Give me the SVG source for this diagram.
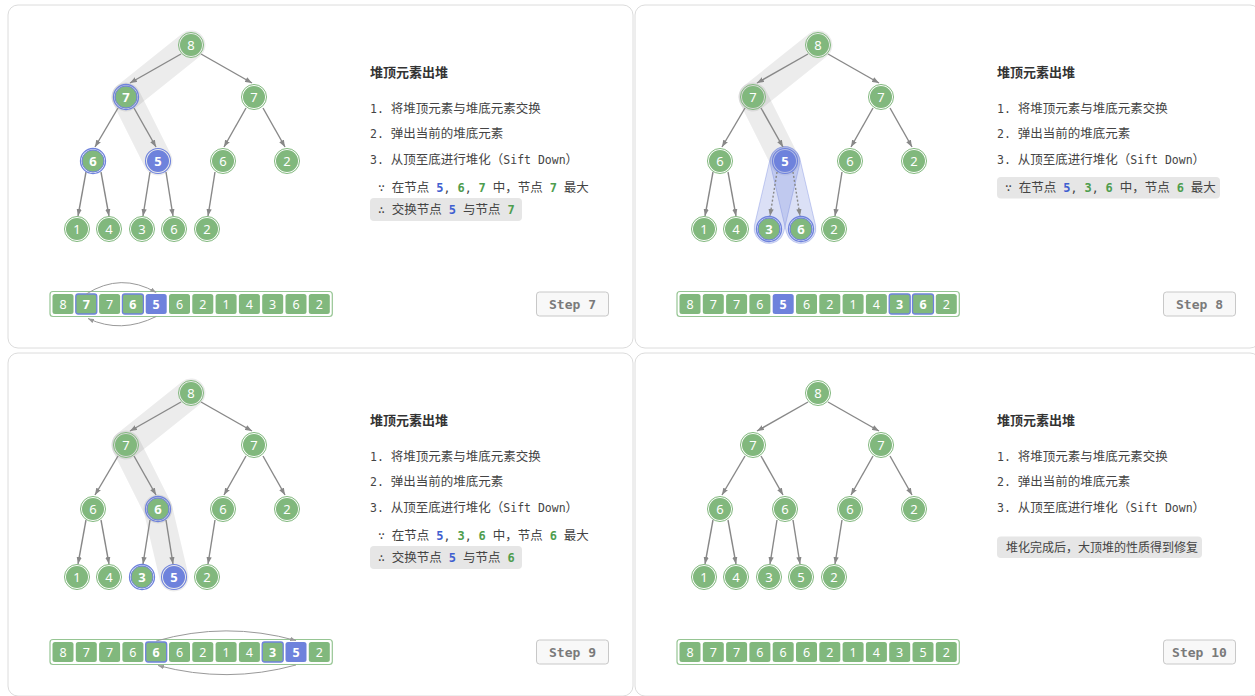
<svg xmlns="http://www.w3.org/2000/svg" width="1255" height="696" viewBox="0 0 1255 696">
<style>
.panel{fill:#fff;stroke:#dcdcdc;stroke-width:1}
.trail{fill:none;stroke:#000;stroke-opacity:.075;stroke-width:29;stroke-linecap:round}
.cap{fill:#6e82dc;fill-opacity:.25;stroke:#6e82dc;stroke-opacity:.45;stroke-width:.8}
.edges path{fill:none;stroke:#888;stroke-width:1.4;marker-end:url(#ah)}
.edges path.dash{stroke-dasharray:2 2}
.ring{fill:none;stroke:#81b87d;stroke-width:1}
.core{fill:#81b87d}
.hl .ring{stroke:#6e82dc;stroke-width:1.3}
.hl .core{stroke:#6e82dc;stroke-width:1}
.sel .ring{stroke:#6e82dc;stroke-width:1.1}
.sel .core{fill:#6e82dc}
.nt{font-family:"Noto Sans","DejaVu Sans",sans-serif;font-size:13px;fill:#fff;text-anchor:middle}
.hl .nt,.sel .nt,.hl .ct,.sel .ct{font-weight:bold}
.arr{fill:#fff;stroke:#96c593;stroke-width:1.2}
.cell{fill:#81b87d}
.hl .cell{stroke:#6e82dc;stroke-width:1.3}
.sel .cell{fill:#6e82dc}
.ct{font-family:"Noto Sans","DejaVu Sans",sans-serif;font-size:12.5px;fill:#fff;text-anchor:middle}
.arc{fill:none;stroke:#999;stroke-width:1;marker-end:url(#ah2)}
.title{font-family:"Noto Sans CJK SC",sans-serif;font-size:13px;font-weight:bold;fill:#333}
.tx{font-family:"Noto Sans CJK SC",sans-serif;font-size:12.5px;fill:#444;white-space:pre}
.m{font-family:"DejaVu Sans Mono","Noto Sans CJK SC",monospace;font-size:11.5px}
.bb{font-family:"DejaVu Sans Mono",monospace;font-size:12px;font-weight:bold;fill:#3f5fd0}
.gb{font-family:"DejaVu Sans Mono",monospace;font-size:12px;font-weight:bold;fill:#4e9d4e}
.box{fill:#e6e6e6}
.stepbox{fill:#f8f8f8;stroke:#c8c8c8;stroke-width:1}
.step{font-family:"DejaVu Sans Mono",monospace;font-size:13px;font-weight:bold;fill:#7a7a7a;text-anchor:middle}
</style>
<defs>
<marker id="ah" viewBox="0 0 8 6" refX="8" refY="3" markerWidth="7" markerHeight="5.5" markerUnits="userSpaceOnUse" orient="auto"><path d="M0,0 L8,3 L0,6 Z" fill="#888"/></marker>
<marker id="ah2" viewBox="0 0 8 6" refX="8" refY="3" markerWidth="6" markerHeight="4.5" markerUnits="userSpaceOnUse" orient="auto"><path d="M0,0 L8,3 L0,6 Z" fill="#999"/></marker>
</defs>
<rect width="1255" height="696" fill="#fff"/>

<!-- PANEL 1 -->
<g id="panel1">
<rect class="panel" x="8" y="5" width="625" height="343" rx="10"/>
<g id="p1-highlight"><path class="trail" d="M191,45 L126,97"/><path class="trail" d="M126,97 L158,161"/></g>
<g id="p1-connectors" class="edges">
<path d="M181,54 L130,83"/><path d="M201,54 L252,83"/>
<path d="M118,108 L95,147"/><path d="M134,108 L156,147"/>
<path d="M246,108 L224,147"/><path d="M263,108 L285,147"/>
<path d="M86,172 L78,216"/><path d="M101,172 L109,216"/>
<path d="M150,172 L143,216"/><path d="M166,172 L173,216"/>
<path d="M215,172 L208,216"/>
</g>
<g id="p1-n0"><circle class="ring" cx="191" cy="45" r="12.5"/><circle class="core" cx="191" cy="45" r="11"/><text class="nt" x="191" y="49.6">8</text></g>
<g id="p1-n1" class="hl"><circle class="ring" cx="126" cy="97" r="12.5"/><circle class="core" cx="126" cy="97" r="11"/><text class="nt" x="126" y="101.6">7</text></g>
<g id="p1-n2"><circle class="ring" cx="254" cy="97" r="12.5"/><circle class="core" cx="254" cy="97" r="11"/><text class="nt" x="254" y="101.6">7</text></g>
<g id="p1-n3" class="hl"><circle class="ring" cx="93" cy="161" r="12.5"/><circle class="core" cx="93" cy="161" r="11"/><text class="nt" x="93" y="165.6">6</text></g>
<g id="p1-n4" class="sel"><circle class="ring" cx="158" cy="161" r="12.5"/><circle class="core" cx="158" cy="161" r="11"/><text class="nt" x="158" y="165.6">5</text></g>
<g id="p1-n5"><circle class="ring" cx="223" cy="161" r="12.5"/><circle class="core" cx="223" cy="161" r="11"/><text class="nt" x="223" y="165.6">6</text></g>
<g id="p1-n6"><circle class="ring" cx="287" cy="161" r="12.5"/><circle class="core" cx="287" cy="161" r="11"/><text class="nt" x="287" y="165.6">2</text></g>
<g id="p1-n7"><circle class="ring" cx="77" cy="229" r="12.5"/><circle class="core" cx="77" cy="229" r="11"/><text class="nt" x="77" y="233.6">1</text></g>
<g id="p1-n8"><circle class="ring" cx="109" cy="229" r="12.5"/><circle class="core" cx="109" cy="229" r="11"/><text class="nt" x="109" y="233.6">4</text></g>
<g id="p1-n9"><circle class="ring" cx="142" cy="229" r="12.5"/><circle class="core" cx="142" cy="229" r="11"/><text class="nt" x="142" y="233.6">3</text></g>
<g id="p1-n10"><circle class="ring" cx="174" cy="229" r="12.5"/><circle class="core" cx="174" cy="229" r="11"/><text class="nt" x="174" y="233.6">6</text></g>
<g id="p1-n11"><circle class="ring" cx="207" cy="229" r="12.5"/><circle class="core" cx="207" cy="229" r="11"/><text class="nt" x="207" y="233.6">2</text></g>
<g id="p1-text">
<text class="title" x="370" y="76.5">堆顶元素出堆</text>
<text class="tx" x="370" y="112.5"><tspan class="m">1. </tspan>将堆顶元素与堆底元素交换</text>
<text class="tx" x="370" y="138"><tspan class="m">2. </tspan>弹出当前的堆底元素</text>
<text class="tx" x="370" y="163.5"><tspan class="m">3. </tspan>从顶至底进行堆化（<tspan class="m">Sift Down</tspan>）</text>
<text class="tx" x="378" y="192"><tspan class="m">∵ </tspan>在节点<tspan class="m"> </tspan><tspan class="bb">5</tspan><tspan class="m">, </tspan><tspan class="gb">6</tspan><tspan class="m">, </tspan><tspan class="gb">7</tspan><tspan class="m"> </tspan>中，节点<tspan class="m"> </tspan><tspan class="gb">7</tspan><tspan class="m"> </tspan>最大</text>
<rect class="box" x="370" y="198" width="152" height="23" rx="4"/>
<text class="tx" x="378" y="214"><tspan class="m">∴ </tspan>交换节点<tspan class="m"> </tspan><tspan class="bb">5</tspan><tspan class="m"> </tspan>与节点<tspan class="m"> </tspan><tspan class="gb">7</tspan></text>
</g>
<rect class="arr" x="50" y="291.5" width="282.3" height="25" rx="3"/>
<g id="p1-a0"><rect class="cell" x="52.5" y="294" width="21" height="20" rx="2.5"/><text class="ct" x="63" y="308.5">8</text></g>
<g id="p1-a1" class="hl"><rect class="cell" x="75.8" y="294" width="21" height="20" rx="2.5"/><text class="ct" x="86.3" y="308.5">7</text></g>
<g id="p1-a2"><rect class="cell" x="99.1" y="294" width="21" height="20" rx="2.5"/><text class="ct" x="109.6" y="308.5">7</text></g>
<g id="p1-a3" class="hl"><rect class="cell" x="122.4" y="294" width="21" height="20" rx="2.5"/><text class="ct" x="132.9" y="308.5">6</text></g>
<g id="p1-a4" class="sel"><rect class="cell" x="145.7" y="294" width="21" height="20" rx="2.5"/><text class="ct" x="156.2" y="308.5">5</text></g>
<g id="p1-a5"><rect class="cell" x="169" y="294" width="21" height="20" rx="2.5"/><text class="ct" x="179.5" y="308.5">6</text></g>
<g id="p1-a6"><rect class="cell" x="192.3" y="294" width="21" height="20" rx="2.5"/><text class="ct" x="202.8" y="308.5">2</text></g>
<g id="p1-a7"><rect class="cell" x="215.6" y="294" width="21" height="20" rx="2.5"/><text class="ct" x="226.1" y="308.5">1</text></g>
<g id="p1-a8"><rect class="cell" x="238.9" y="294" width="21" height="20" rx="2.5"/><text class="ct" x="249.4" y="308.5">4</text></g>
<g id="p1-a9"><rect class="cell" x="262.2" y="294" width="21" height="20" rx="2.5"/><text class="ct" x="272.7" y="308.5">3</text></g>
<g id="p1-a10"><rect class="cell" x="285.5" y="294" width="21" height="20" rx="2.5"/><text class="ct" x="296" y="308.5">6</text></g>
<g id="p1-a11"><rect class="cell" x="308.8" y="294" width="21" height="20" rx="2.5"/><text class="ct" x="319.3" y="308.5">2</text></g>
<g id="p1-swap"><path class="arc" d="M86.3,294 Q121,272 156.2,292.5"/><path class="arc" d="M156.2,316.5 Q121,334 88,318.5"/></g>
<g id="p1-step"><rect class="stepbox" x="536.5" y="292" width="72" height="24" rx="3"/><text class="step" x="572.5" y="308.5">Step 7</text></g>
</g>

<!-- PANEL 2 -->
<g id="panel2" transform="translate(627,0)">
<rect class="panel" x="8" y="5" width="625" height="343" rx="10"/>
<g id="p2-highlight"><path class="trail" d="M191,45 L126,97"/><path class="trail" d="M126,97 L158,161"/>
<path class="cap" d="M172.6,164.4 L156.6,232.4 A15,15 0 0 1 127.4,225.6 L143.4,157.6 A15,15 0 0 1 172.6,164.4 Z"/>
<path class="cap" d="M172.6,157.6 L188.6,225.6 A15,15 0 0 1 159.4,232.4 L143.4,164.4 A15,15 0 0 1 172.6,157.6 Z"/></g>
<g id="p2-connectors" class="edges">
<path d="M181,54 L130,83"/><path d="M201,54 L252,83"/>
<path d="M118,108 L95,147"/><path d="M134,108 L156,147"/>
<path d="M246,108 L224,147"/><path d="M263,108 L285,147"/>
<path d="M86,172 L78,216"/><path d="M101,172 L109,216"/>
<path class="dash" d="M150,172 L143,216"/><path class="dash" d="M166,172 L173,216"/>
<path d="M215,172 L208,216"/>
</g>
<g id="p2-n0"><circle class="ring" cx="191" cy="45" r="12.5"/><circle class="core" cx="191" cy="45" r="11"/><text class="nt" x="191" y="49.6">8</text></g>
<g id="p2-n1"><circle class="ring" cx="126" cy="97" r="12.5"/><circle class="core" cx="126" cy="97" r="11"/><text class="nt" x="126" y="101.6">7</text></g>
<g id="p2-n2"><circle class="ring" cx="254" cy="97" r="12.5"/><circle class="core" cx="254" cy="97" r="11"/><text class="nt" x="254" y="101.6">7</text></g>
<g id="p2-n3"><circle class="ring" cx="93" cy="161" r="12.5"/><circle class="core" cx="93" cy="161" r="11"/><text class="nt" x="93" y="165.6">6</text></g>
<g id="p2-n4" class="sel"><circle class="ring" cx="158" cy="161" r="12.5"/><circle class="core" cx="158" cy="161" r="11"/><text class="nt" x="158" y="165.6">5</text></g>
<g id="p2-n5"><circle class="ring" cx="223" cy="161" r="12.5"/><circle class="core" cx="223" cy="161" r="11"/><text class="nt" x="223" y="165.6">6</text></g>
<g id="p2-n6"><circle class="ring" cx="287" cy="161" r="12.5"/><circle class="core" cx="287" cy="161" r="11"/><text class="nt" x="287" y="165.6">2</text></g>
<g id="p2-n7"><circle class="ring" cx="77" cy="229" r="12.5"/><circle class="core" cx="77" cy="229" r="11"/><text class="nt" x="77" y="233.6">1</text></g>
<g id="p2-n8"><circle class="ring" cx="109" cy="229" r="12.5"/><circle class="core" cx="109" cy="229" r="11"/><text class="nt" x="109" y="233.6">4</text></g>
<g id="p2-n9" class="hl"><circle class="ring" cx="142" cy="229" r="12.5"/><circle class="core" cx="142" cy="229" r="11"/><text class="nt" x="142" y="233.6">3</text></g>
<g id="p2-n10" class="hl"><circle class="ring" cx="174" cy="229" r="12.5"/><circle class="core" cx="174" cy="229" r="11"/><text class="nt" x="174" y="233.6">6</text></g>
<g id="p2-n11"><circle class="ring" cx="207" cy="229" r="12.5"/><circle class="core" cx="207" cy="229" r="11"/><text class="nt" x="207" y="233.6">2</text></g>
<g id="p2-text">
<text class="title" x="370" y="76.5">堆顶元素出堆</text>
<text class="tx" x="370" y="112.5"><tspan class="m">1. </tspan>将堆顶元素与堆底元素交换</text>
<text class="tx" x="370" y="138"><tspan class="m">2. </tspan>弹出当前的堆底元素</text>
<text class="tx" x="370" y="163.5"><tspan class="m">3. </tspan>从顶至底进行堆化（<tspan class="m">Sift Down</tspan>）</text>
<rect class="box" x="370" y="177" width="223" height="21.5" rx="4"/>
<text class="tx" x="378" y="192"><tspan class="m">∵ </tspan>在节点<tspan class="m"> </tspan><tspan class="bb">5</tspan><tspan class="m">, </tspan><tspan class="gb">3</tspan><tspan class="m">, </tspan><tspan class="gb">6</tspan><tspan class="m"> </tspan>中，节点<tspan class="m"> </tspan><tspan class="gb">6</tspan><tspan class="m"> </tspan>最大</text>
</g>
<rect class="arr" x="50" y="291.5" width="282.3" height="25" rx="3"/>
<g id="p2-a0"><rect class="cell" x="52.5" y="294" width="21" height="20" rx="2.5"/><text class="ct" x="63" y="308.5">8</text></g>
<g id="p2-a1"><rect class="cell" x="75.8" y="294" width="21" height="20" rx="2.5"/><text class="ct" x="86.3" y="308.5">7</text></g>
<g id="p2-a2"><rect class="cell" x="99.1" y="294" width="21" height="20" rx="2.5"/><text class="ct" x="109.6" y="308.5">7</text></g>
<g id="p2-a3"><rect class="cell" x="122.4" y="294" width="21" height="20" rx="2.5"/><text class="ct" x="132.9" y="308.5">6</text></g>
<g id="p2-a4" class="sel"><rect class="cell" x="145.7" y="294" width="21" height="20" rx="2.5"/><text class="ct" x="156.2" y="308.5">5</text></g>
<g id="p2-a5"><rect class="cell" x="169" y="294" width="21" height="20" rx="2.5"/><text class="ct" x="179.5" y="308.5">6</text></g>
<g id="p2-a6"><rect class="cell" x="192.3" y="294" width="21" height="20" rx="2.5"/><text class="ct" x="202.8" y="308.5">2</text></g>
<g id="p2-a7"><rect class="cell" x="215.6" y="294" width="21" height="20" rx="2.5"/><text class="ct" x="226.1" y="308.5">1</text></g>
<g id="p2-a8"><rect class="cell" x="238.9" y="294" width="21" height="20" rx="2.5"/><text class="ct" x="249.4" y="308.5">4</text></g>
<g id="p2-a9" class="hl"><rect class="cell" x="262.2" y="294" width="21" height="20" rx="2.5"/><text class="ct" x="272.7" y="308.5">3</text></g>
<g id="p2-a10" class="hl"><rect class="cell" x="285.5" y="294" width="21" height="20" rx="2.5"/><text class="ct" x="296" y="308.5">6</text></g>
<g id="p2-a11"><rect class="cell" x="308.8" y="294" width="21" height="20" rx="2.5"/><text class="ct" x="319.3" y="308.5">2</text></g>
<g id="p2-step"><rect class="stepbox" x="536.5" y="292" width="72" height="24" rx="3"/><text class="step" x="572.5" y="308.5">Step 8</text></g>
</g>

<!-- PANEL 3 -->
<g id="panel3" transform="translate(0,348)">
<rect class="panel" x="8" y="5" width="625" height="343" rx="10"/>
<g id="p3-highlight"><path class="trail" d="M191,45 L126,97"/><path class="trail" d="M126,97 L158,161"/><path class="trail" d="M158,161 L174,229"/></g>
<g id="p3-connectors" class="edges">
<path d="M181,54 L130,83"/><path d="M201,54 L252,83"/>
<path d="M118,108 L95,147"/><path d="M134,108 L156,147"/>
<path d="M246,108 L224,147"/><path d="M263,108 L285,147"/>
<path d="M86,172 L78,216"/><path d="M101,172 L109,216"/>
<path d="M150,172 L143,216"/><path d="M166,172 L173,216"/>
<path d="M215,172 L208,216"/>
</g>
<g id="p3-n0"><circle class="ring" cx="191" cy="45" r="12.5"/><circle class="core" cx="191" cy="45" r="11"/><text class="nt" x="191" y="49.6">8</text></g>
<g id="p3-n1"><circle class="ring" cx="126" cy="97" r="12.5"/><circle class="core" cx="126" cy="97" r="11"/><text class="nt" x="126" y="101.6">7</text></g>
<g id="p3-n2"><circle class="ring" cx="254" cy="97" r="12.5"/><circle class="core" cx="254" cy="97" r="11"/><text class="nt" x="254" y="101.6">7</text></g>
<g id="p3-n3"><circle class="ring" cx="93" cy="161" r="12.5"/><circle class="core" cx="93" cy="161" r="11"/><text class="nt" x="93" y="165.6">6</text></g>
<g id="p3-n4" class="hl"><circle class="ring" cx="158" cy="161" r="12.5"/><circle class="core" cx="158" cy="161" r="11"/><text class="nt" x="158" y="165.6">6</text></g>
<g id="p3-n5"><circle class="ring" cx="223" cy="161" r="12.5"/><circle class="core" cx="223" cy="161" r="11"/><text class="nt" x="223" y="165.6">6</text></g>
<g id="p3-n6"><circle class="ring" cx="287" cy="161" r="12.5"/><circle class="core" cx="287" cy="161" r="11"/><text class="nt" x="287" y="165.6">2</text></g>
<g id="p3-n7"><circle class="ring" cx="77" cy="229" r="12.5"/><circle class="core" cx="77" cy="229" r="11"/><text class="nt" x="77" y="233.6">1</text></g>
<g id="p3-n8"><circle class="ring" cx="109" cy="229" r="12.5"/><circle class="core" cx="109" cy="229" r="11"/><text class="nt" x="109" y="233.6">4</text></g>
<g id="p3-n9" class="hl"><circle class="ring" cx="142" cy="229" r="12.5"/><circle class="core" cx="142" cy="229" r="11"/><text class="nt" x="142" y="233.6">3</text></g>
<g id="p3-n10" class="sel"><circle class="ring" cx="174" cy="229" r="12.5"/><circle class="core" cx="174" cy="229" r="11"/><text class="nt" x="174" y="233.6">5</text></g>
<g id="p3-n11"><circle class="ring" cx="207" cy="229" r="12.5"/><circle class="core" cx="207" cy="229" r="11"/><text class="nt" x="207" y="233.6">2</text></g>
<g id="p3-text">
<text class="title" x="370" y="76.5">堆顶元素出堆</text>
<text class="tx" x="370" y="112.5"><tspan class="m">1. </tspan>将堆顶元素与堆底元素交换</text>
<text class="tx" x="370" y="138"><tspan class="m">2. </tspan>弹出当前的堆底元素</text>
<text class="tx" x="370" y="163.5"><tspan class="m">3. </tspan>从顶至底进行堆化（<tspan class="m">Sift Down</tspan>）</text>
<text class="tx" x="378" y="192"><tspan class="m">∵ </tspan>在节点<tspan class="m"> </tspan><tspan class="bb">5</tspan><tspan class="m">, </tspan><tspan class="gb">3</tspan><tspan class="m">, </tspan><tspan class="gb">6</tspan><tspan class="m"> </tspan>中，节点<tspan class="m"> </tspan><tspan class="gb">6</tspan><tspan class="m"> </tspan>最大</text>
<rect class="box" x="370" y="198" width="152" height="23" rx="4"/>
<text class="tx" x="378" y="214"><tspan class="m">∴ </tspan>交换节点<tspan class="m"> </tspan><tspan class="bb">5</tspan><tspan class="m"> </tspan>与节点<tspan class="m"> </tspan><tspan class="gb">6</tspan></text>
</g>
<rect class="arr" x="50" y="291.5" width="282.3" height="25" rx="3"/>
<g id="p3-a0"><rect class="cell" x="52.5" y="294" width="21" height="20" rx="2.5"/><text class="ct" x="63" y="308.5">8</text></g>
<g id="p3-a1"><rect class="cell" x="75.8" y="294" width="21" height="20" rx="2.5"/><text class="ct" x="86.3" y="308.5">7</text></g>
<g id="p3-a2"><rect class="cell" x="99.1" y="294" width="21" height="20" rx="2.5"/><text class="ct" x="109.6" y="308.5">7</text></g>
<g id="p3-a3"><rect class="cell" x="122.4" y="294" width="21" height="20" rx="2.5"/><text class="ct" x="132.9" y="308.5">6</text></g>
<g id="p3-a4" class="hl"><rect class="cell" x="145.7" y="294" width="21" height="20" rx="2.5"/><text class="ct" x="156.2" y="308.5">6</text></g>
<g id="p3-a5"><rect class="cell" x="169" y="294" width="21" height="20" rx="2.5"/><text class="ct" x="179.5" y="308.5">6</text></g>
<g id="p3-a6"><rect class="cell" x="192.3" y="294" width="21" height="20" rx="2.5"/><text class="ct" x="202.8" y="308.5">2</text></g>
<g id="p3-a7"><rect class="cell" x="215.6" y="294" width="21" height="20" rx="2.5"/><text class="ct" x="226.1" y="308.5">1</text></g>
<g id="p3-a8"><rect class="cell" x="238.9" y="294" width="21" height="20" rx="2.5"/><text class="ct" x="249.4" y="308.5">4</text></g>
<g id="p3-a9" class="hl"><rect class="cell" x="262.2" y="294" width="21" height="20" rx="2.5"/><text class="ct" x="272.7" y="308.5">3</text></g>
<g id="p3-a10" class="sel"><rect class="cell" x="285.5" y="294" width="21" height="20" rx="2.5"/><text class="ct" x="296" y="308.5">5</text></g>
<g id="p3-a11"><rect class="cell" x="308.8" y="294" width="21" height="20" rx="2.5"/><text class="ct" x="319.3" y="308.5">2</text></g>
<g id="p3-swap"><path class="arc" d="M156.2,293 Q226,273 296,292.5"/><path class="arc" d="M296,317 Q227,336 158,317.5"/></g>
<g id="p3-step"><rect class="stepbox" x="536.5" y="292" width="72" height="24" rx="3"/><text class="step" x="572.5" y="308.5">Step 9</text></g>
</g>

<!-- PANEL 4 -->
<g id="panel4" transform="translate(627,348)">
<rect class="panel" x="8" y="5" width="625" height="343" rx="10"/>
<g id="p4-connectors" class="edges">
<path d="M181,54 L130,83"/><path d="M201,54 L252,83"/>
<path d="M118,108 L95,147"/><path d="M134,108 L156,147"/>
<path d="M246,108 L224,147"/><path d="M263,108 L285,147"/>
<path d="M86,172 L78,216"/><path d="M101,172 L109,216"/>
<path d="M150,172 L143,216"/><path d="M166,172 L173,216"/>
<path d="M215,172 L208,216"/>
</g>
<g id="p4-n0"><circle class="ring" cx="191" cy="45" r="12.5"/><circle class="core" cx="191" cy="45" r="11"/><text class="nt" x="191" y="49.6">8</text></g>
<g id="p4-n1"><circle class="ring" cx="126" cy="97" r="12.5"/><circle class="core" cx="126" cy="97" r="11"/><text class="nt" x="126" y="101.6">7</text></g>
<g id="p4-n2"><circle class="ring" cx="254" cy="97" r="12.5"/><circle class="core" cx="254" cy="97" r="11"/><text class="nt" x="254" y="101.6">7</text></g>
<g id="p4-n3"><circle class="ring" cx="93" cy="161" r="12.5"/><circle class="core" cx="93" cy="161" r="11"/><text class="nt" x="93" y="165.6">6</text></g>
<g id="p4-n4"><circle class="ring" cx="158" cy="161" r="12.5"/><circle class="core" cx="158" cy="161" r="11"/><text class="nt" x="158" y="165.6">6</text></g>
<g id="p4-n5"><circle class="ring" cx="223" cy="161" r="12.5"/><circle class="core" cx="223" cy="161" r="11"/><text class="nt" x="223" y="165.6">6</text></g>
<g id="p4-n6"><circle class="ring" cx="287" cy="161" r="12.5"/><circle class="core" cx="287" cy="161" r="11"/><text class="nt" x="287" y="165.6">2</text></g>
<g id="p4-n7"><circle class="ring" cx="77" cy="229" r="12.5"/><circle class="core" cx="77" cy="229" r="11"/><text class="nt" x="77" y="233.6">1</text></g>
<g id="p4-n8"><circle class="ring" cx="109" cy="229" r="12.5"/><circle class="core" cx="109" cy="229" r="11"/><text class="nt" x="109" y="233.6">4</text></g>
<g id="p4-n9"><circle class="ring" cx="142" cy="229" r="12.5"/><circle class="core" cx="142" cy="229" r="11"/><text class="nt" x="142" y="233.6">3</text></g>
<g id="p4-n10"><circle class="ring" cx="174" cy="229" r="12.5"/><circle class="core" cx="174" cy="229" r="11"/><text class="nt" x="174" y="233.6">5</text></g>
<g id="p4-n11"><circle class="ring" cx="207" cy="229" r="12.5"/><circle class="core" cx="207" cy="229" r="11"/><text class="nt" x="207" y="233.6">2</text></g>
<g id="p4-text">
<text class="title" x="370" y="76.5">堆顶元素出堆</text>
<text class="tx" x="370" y="112.5"><tspan class="m">1. </tspan>将堆顶元素与堆底元素交换</text>
<text class="tx" x="370" y="138"><tspan class="m">2. </tspan>弹出当前的堆底元素</text>
<text class="tx" x="370" y="163.5"><tspan class="m">3. </tspan>从顶至底进行堆化（<tspan class="m">Sift Down</tspan>）</text>
<rect class="box" x="370" y="188.5" width="205" height="21.5" rx="4"/>
<text class="tx" x="379" y="203.5" style="font-size:12px">堆化完成后，大顶堆的性质得到修复</text>
</g>
<rect class="arr" x="50" y="291.5" width="282.3" height="25" rx="3"/>
<g id="p4-a0"><rect class="cell" x="52.5" y="294" width="21" height="20" rx="2.5"/><text class="ct" x="63" y="308.5">8</text></g>
<g id="p4-a1"><rect class="cell" x="75.8" y="294" width="21" height="20" rx="2.5"/><text class="ct" x="86.3" y="308.5">7</text></g>
<g id="p4-a2"><rect class="cell" x="99.1" y="294" width="21" height="20" rx="2.5"/><text class="ct" x="109.6" y="308.5">7</text></g>
<g id="p4-a3"><rect class="cell" x="122.4" y="294" width="21" height="20" rx="2.5"/><text class="ct" x="132.9" y="308.5">6</text></g>
<g id="p4-a4"><rect class="cell" x="145.7" y="294" width="21" height="20" rx="2.5"/><text class="ct" x="156.2" y="308.5">6</text></g>
<g id="p4-a5"><rect class="cell" x="169" y="294" width="21" height="20" rx="2.5"/><text class="ct" x="179.5" y="308.5">6</text></g>
<g id="p4-a6"><rect class="cell" x="192.3" y="294" width="21" height="20" rx="2.5"/><text class="ct" x="202.8" y="308.5">2</text></g>
<g id="p4-a7"><rect class="cell" x="215.6" y="294" width="21" height="20" rx="2.5"/><text class="ct" x="226.1" y="308.5">1</text></g>
<g id="p4-a8"><rect class="cell" x="238.9" y="294" width="21" height="20" rx="2.5"/><text class="ct" x="249.4" y="308.5">4</text></g>
<g id="p4-a9"><rect class="cell" x="262.2" y="294" width="21" height="20" rx="2.5"/><text class="ct" x="272.7" y="308.5">3</text></g>
<g id="p4-a10"><rect class="cell" x="285.5" y="294" width="21" height="20" rx="2.5"/><text class="ct" x="296" y="308.5">5</text></g>
<g id="p4-a11"><rect class="cell" x="308.8" y="294" width="21" height="20" rx="2.5"/><text class="ct" x="319.3" y="308.5">2</text></g>
<g id="p4-step"><rect class="stepbox" x="536.5" y="292" width="72" height="24" rx="3"/><text class="step" x="572.5" y="308.5">Step 10</text></g>
</g>
</svg>
